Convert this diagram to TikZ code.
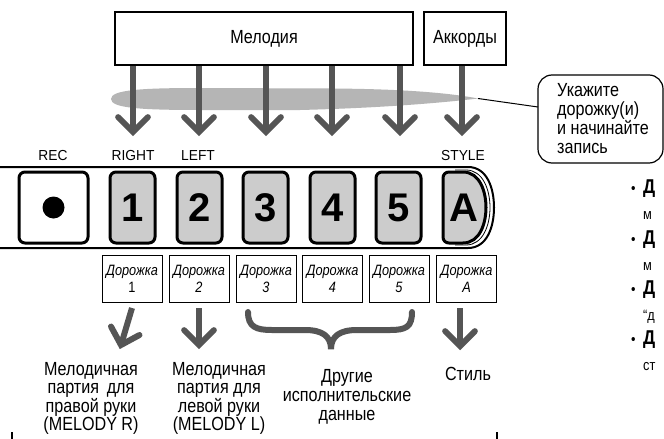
\documentclass[tikz,border=0pt]{standalone}
\usepackage{fontspec}
\setmainfont[FakeStretch=0.85]{Liberation Sans}
\newfontfamily\keyfont{Liberation Sans}
\newfontfamily\lblfont[FakeStretch=0.95]{Liberation Sans}
\usetikzlibrary{calc}
\definecolor{arrowgray}{HTML}{555555}
\definecolor{keygray}{HTML}{CCCCCC}
\definecolor{ellgray}{HTML}{B5B5B5}
\newcommand\vhead[2]{\draw[headline] ($(#1)!21pt!45:(#2)$) -- (#1) -- ($(#1)!21pt!-45:(#2)$);}
\tikzset{
  topbox/.style={draw, line width=2pt, minimum height=53, inner sep=0pt, font=\fontsize{19}{19}\selectfont},
  shaft/.style={draw=arrowgray, line width=6pt},
  headline/.style={draw=arrowgray, line width=6pt, line cap=round, line join=miter},
  keybox/.style={draw, line width=3pt, rounded corners=6pt, fill=keygray, minimum width=45, minimum height=71, inner sep=0pt, font=\keyfont\bfseries\fontsize{40}{40}\selectfont},
  lbl/.style={anchor=base, inner sep=0pt, font=\lblfont\fontsize{14.5}{14.5}\selectfont},
  trk/.style={draw, line width=1pt, minimum width=60, minimum height=47, inner sep=0pt, align=center, font=\fontsize{15}{17}\selectfont},
  txt/.style={anchor=base, inner sep=0pt, font=\fontsize{19}{19}\selectfont},
  ctxt/.style={anchor=base west, inner sep=0pt, font=\fontsize{19}{19}\selectfont},
  frag/.style={anchor=base west, inner sep=0pt, font=\fontsize{15}{15}\selectfont},
  fragb/.style={anchor=base west, inner sep=0pt, font=\bfseries\fontsize{20}{20}\selectfont},
}
\begin{document}
\begin{tikzpicture}[x=1pt,y=-1pt]
\useasboundingbox (0,0) rectangle (664,439);
\fill[white] (0,0) rectangle (664,439);

% top boxes
\node[topbox, minimum width=298] (mel) at (264,38.5) {Мелодия};
\node[topbox, minimum width=82] (akk) at (465,38.5) {Аккорды};

% grey ellipse
\coordinate (etip) at (478,98.5);
\fill[ellgray] (111,99) .. controls (111,90) and (140,88) .. (200,88) -- (330,88.5)
  .. controls (420,89) and (460,95) .. (etip)
  .. controls (440,103) and (380,108) .. (300,110) -- (200,110)
  .. controls (140,110) and (111,108) .. (111,99) -- cycle;

% callout
\draw[line width=1.2pt, rounded corners=14pt] (538,75) rectangle (663,163);
\coordinate (cpt) at (538,107);
\draw[line width=1pt] (etip) -- (cpt);
\node[ctxt] (c1) at (557,96) {Укажите};
\node[ctxt] (c2) at (557,115) {дорожку(и)};
\node[ctxt] (c3) at (557,134) {и начинайте};
\node[ctxt] (c4) at (557,153) {запись};

% top arrows
\foreach \i/\x in {1/133,2/199,3/266,4/332,5/400}{
  \coordinate (t\i) at (\x,132);
  \draw[shaft] (mel.south -| t\i) -- (t\i);
  \vhead{t\i}{mel.south -| t\i}
}
\coordinate (t6) at (462,132);
\draw[shaft] (akk.south -| t6) -- (t6);
\vhead{t6}{akk.south -| t6}

% labels
\node[lbl] (lrec) at (53,160) {REC};
\node[lbl] (lright) at (133,160) {RIGHT};
\node[lbl] (lleft) at (198,160) {LEFT};
\node[lbl] (lstyle) at (463,160) {STYLE};

% strip
\draw[line width=2pt] (0,167) -- (468,167) .. controls (487,167) and (494,188) .. (494,207.5)
  .. controls (494,227) and (487,248) .. (468,248) -- (0,248);
\draw[line width=0.8pt] (455,170) -- (466,170) .. controls (483,170) and (490,190) .. (490,207.5)
  .. controls (490,225) and (483,245) .. (466,245) -- (455,245);

% keys
\node[keybox, fill=white, minimum width=69] (rec) at (53.5,207.5) {};
\fill (rec.center) circle (11);
\node[keybox] (k1) at (132.5,207.5) {1};
\node[keybox] (k2) at (199.5,207.5) {2};
\node[keybox] (k3) at (265.5,207.5) {3};
\node[keybox] (k4) at (332.5,207.5) {4};
\node[keybox] (k5) at (398.5,207.5) {5};
\draw[line width=3pt, fill=keygray] (449,172) -- (463,172)
  .. controls (480,172) and (486,192) .. (486,207.5)
  .. controls (486,223) and (480,243) .. (463,243) -- (449,243)
  .. controls (445.5,243) and (443,240.5) .. (443,237) -- (443,178)
  .. controls (443,174.5) and (445.5,172) .. (449,172) -- cycle;
\node[inner sep=0pt, font=\keyfont\bfseries\fontsize{40}{40}\selectfont] (kA) at (463.5,207.5) {A};

% track boxes
\node[trk] (d1) at (132,278.5) {\textit{Дорожка}\\1};
\node[trk] (d2) at (199,278.5) {\textit{Дорожка}\\\textit{2}};
\node[trk] (d3) at (266,278.5) {\textit{Дорожка}\\\textit{3}};
\node[trk] (d4) at (332.5,278.5) {\textit{Дорожка}\\\textit{4}};
\node[trk] (d5) at (399,278.5) {\textit{Дорожка}\\\textit{5}};
\node[trk] (dA) at (466.5,278.5) {\textit{Дорожка}\\\textit{A}};

% bottom arrows
\coordinate (b1s) at (132,308);
\coordinate (b1) at (121,345);
\draw[shaft] (b1s) -- (b1);
\vhead{b1}{b1s}
\coordinate (b2s) at (199,308);
\coordinate (b2) at (199,345);
\draw[shaft] (b2s) -- (b2);
\vhead{b2}{b2s}
\coordinate (b6s) at (460,308);
\coordinate (b6) at (460,346);
\draw[shaft] (b6s) -- (b6);
\vhead{b6}{b6s}

% brace
\coordinate (bl) at (248,312);
\coordinate (br) at (412,312);
\coordinate (bt) at (331,349);
\draw[arrowgray, line width=6pt, line cap=round, line join=miter]
  (bl) .. controls (248,327) and (256,330) .. (272,330) -- (305,330)
  .. controls (322,330) and (331,336) .. (bt)
  .. controls (331,336) and (340,330) .. (357,330) -- (390,330)
  .. controls (406,330) and (412,327) .. (br);

% bottom texts
\node[txt] (m1a) at (91,375) {Мелодичная};
\node[txt] (m1b) at (91,393.5) {партия\, для};
\node[txt] (m1c) at (91,412) {правой руки};
\node[txt] (m1d) at (91,430.5) {(MELODY R)};
\node[txt] (m2a) at (219,375) {Мелодичная};
\node[txt] (m2b) at (219,393.5) {партия для};
\node[txt] (m2c) at (219,412) {левой руки};
\node[txt] (m2d) at (219,430.5) {(MELODY L)};
\node[txt] (o1) at (347,382) {Другие};
\node[txt] (o2) at (347,401) {исполнительские};
\node[txt] (o3) at (347,420) {данные};
\node[txt] (st) at (468,380) {Стиль};

% cut-off fragments at right
\foreach \n/\y/\t in {1/193/м,2/244/м,3/294/“д,4/344/ст}{
  \node[frag] (bu\n) at (631,\y) {•};
  \node[fragb] (bd\n) at (643,\y) {Д};
  \node[frag] (bs\n) at (643,\y+26) {\t};
}

% crop ticks
\draw[line width=2pt] (12,432) -- (12,439);
\draw[line width=2pt] (497,432) -- (497,439);
\end{tikzpicture}
\end{document}
